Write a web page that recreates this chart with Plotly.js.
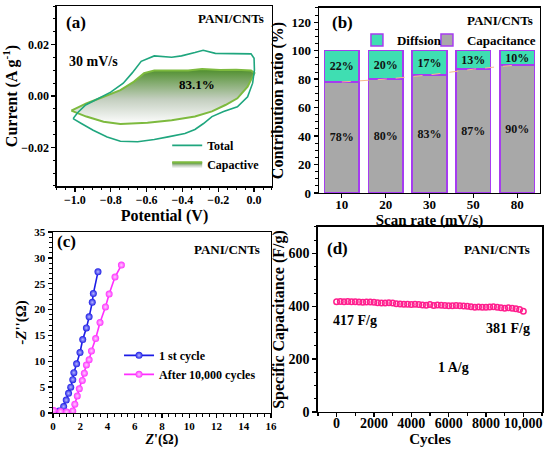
<!DOCTYPE html>
<html>
<head>
<meta charset="utf-8">
<script src="https://cdn.plot.ly/plotly-3.0.1.min.js"></script>
<style>html,body{margin:0;padding:0;background:#fff;}#chart{width:550px;height:456px;}</style>
</head>
<body>
<div id="chart"></div>
<script>
// ---- Panel (a): CV curves at 30 mV/s ----
const totalPotential = [-1.01,-0.985,-0.94,-0.87,-0.80,-0.73,-0.68,-0.63,-0.557,-0.46,-0.405,-0.33,-0.284,-0.216,-0.10,-0.017,0.0,0.002,-0.008,-0.036,-0.093,-0.17,-0.235,-0.282,-0.33,-0.386,-0.48,-0.557,-0.65,-0.746,-0.82,-0.898,-0.964,-1.0,-1.01];
const totalCurrent   = [-0.0088,-0.0065,-0.0035,-0.0010,0.0015,0.0050,0.0090,0.0135,0.0156,0.0151,0.0156,0.0169,0.0178,0.0166,0.0164,0.0164,0.0147,0.0101,0.0050,-0.0003,-0.0042,-0.0060,-0.0080,-0.0107,-0.0130,-0.0146,-0.0159,-0.0169,-0.0178,-0.0176,-0.0159,-0.0133,-0.0107,-0.0094,-0.0088];
const capPotential = [-1.02,-0.936,-0.84,-0.746,-0.67,-0.614,-0.557,-0.46,-0.368,-0.29,-0.19,-0.10,-0.017,0.002,-0.036,-0.093,-0.16,-0.235,-0.33,-0.46,-0.595,-0.746,-0.84,-0.936,-1.02];
const capCurrent   = [-0.0057,-0.0029,-0.0003,0.0023,0.0056,0.0089,0.0099,0.0100,0.0099,0.0105,0.0101,0.0102,0.0099,0.0089,0.0036,-0.0009,-0.0035,-0.0060,-0.0080,-0.0094,-0.0104,-0.0109,-0.0100,-0.0080,-0.0057];

// ---- Panel (b): contribution ratio ----
const scanRates   = ['10','20','30','50','80'];
const capacitance = [78,80,83,87,90];
const diffusion   = [22,20,17,13,10];

// ---- Panel (c): Nyquist plots ----
const zReFirst = [0.1,0.45,0.78,0.97,1.14,1.30,1.45,1.53,1.73,1.98,2.18,2.45,2.65,2.88,2.96,3.30];
const zImFirst = [0.2,0.4,1.25,2.5,3.8,5.0,6.45,7.8,9.5,11.7,14.2,16.45,18.6,21.4,23.1,27.3];
const zReAfter = [0.05,0.55,1.0,1.45,1.60,1.78,1.93,2.15,2.30,2.45,2.65,2.82,3.13,3.45,3.85,4.12,4.55,5.02];
const zImAfter = [0.5,0.3,0.2,0.4,1.7,3.3,4.7,6.3,7.7,9.3,10.3,12.0,14.4,17.5,20.5,23.0,26.3,28.6];

// ---- Panel (d): cycling stability ----
const cycles = [0,200,400,600,800,1000,1200,1400,1600,1800,2000,2200,2400,2600,2800,3000,3200,3400,3600,3800,4000,4200,4400,4600,4800,5000,5200,5400,5600,5800,6000,6200,6400,6600,6800,7000,7200,7400,7600,7800,8000,8200,8400,8600,8800,9000,9200,9400,9600,9800,10000];
const specCap = [417,418,417,418,417,417,416,415,416,416,415,413,412,412,413,412,410,409,408,408,407,408,407,405,404,407,403,405,404,403,402,402,403,402,401,400,398,396,397,396,396,397,398,396,394,393,394,393,391,388,381];
const cycleTickVals = [0,2000,4000,6000,8000,10000];
const cycleTickText = ['0','2000','4000','6000','8000','10,000'];

const FONT = 'Liberation Serif, Times New Roman, serif';

const traces = [
  {x: capPotential, y: capCurrent, xaxis:'x', yaxis:'y', type:'scatter', mode:'lines', name:'Capactive',
   fill:'toself', line:{color:'#7dba3e', width:2},
   fillgradient:{type:'vertical', start:-0.011, stop:0.0105,
     colorscale:[[0,'#ffffff'],[0.45,'#c4cfc0'],[1,'#4e8e2c']]},
   legend:'legend'},
  {x: totalPotential, y: totalCurrent, xaxis:'x', yaxis:'y', type:'scatter', mode:'lines', name:'Total',
   line:{color:'#1fa67e', width:1.6}, legend:'legend'},

  {x: scanRates, y: capacitance, xaxis:'x2', yaxis:'y2', type:'bar', name:'Capacitance',
   marker:{color:'#a8a8a8', line:{color:'#a63cf0', width:1.5}},
   text: capacitance.map(v => v + '%'), textposition:'inside', insidetextanchor:'middle', textangle:0, constraintext:'none',
   textfont:{size:12, color:'#111'}, legend:'legend4'},
  {x: scanRates, y: diffusion, xaxis:'x2', yaxis:'y2', type:'bar', name:'Diffsion',
   marker:{color:'#3fdeb2', line:{color:'#a63cf0', width:1.5}},
   text: diffusion.map(v => v + '%'), textposition:'inside', insidetextanchor:'middle', textangle:0, constraintext:'none',
   textfont:{size:12, color:'#111'}, legend:'legend2'},
  {x: scanRates, y: capacitance, xaxis:'x2', yaxis:'y2', type:'scatter', mode:'lines',
   line:{color:'#f7b98a', width:1, dash:'dash'}, showlegend:false, hoverinfo:'skip'},

  {x: zReFirst, y: zImFirst, xaxis:'x3', yaxis:'y3', type:'scatter', mode:'lines+markers', name:'1 st cycle',
   line:{color:'#1c1ce6', width:1.6},
   marker:{color:'#1c1ce6', size:7, gradient:{type:'radial', color:'#b8b8ff'}}, legend:'legend3'},
  {x: zReAfter, y: zImAfter, xaxis:'x3', yaxis:'y3', type:'scatter', mode:'lines+markers', name:'After 10,000 cycles',
   line:{color:'#ff2eff', width:1.6},
   marker:{color:'#ff2eff', size:7, gradient:{type:'radial', color:'#ffd0ff'}}, legend:'legend3'},

  {x: cycles, y: specCap, xaxis:'x4', yaxis:'y4', type:'scatter', mode:'markers', name:'Capacitance',
   marker:{symbol:'circle-open', size:5.5, color:'#ff1f8e', line:{width:1.5}}, showlegend:false}
];

const baseAxis = {showline:true, linecolor:'#000', linewidth:1.5, mirror:true, ticks:'outside',
  ticklen:4, tickwidth:1.3, tickcolor:'#000', showgrid:false, zeroline:false, tickangle:0, automargin:false,
  minor:{ticks:'outside', ticklen:2.5, tickwidth:1, tickcolor:'#000'}};
function ax(o){ return Object.assign({}, JSON.parse(JSON.stringify(baseAxis)), o); }

const layout = {
  width:550, height:456, margin:{l:0,r:0,t:0,b:0, autoexpand:false}, paper_bgcolor:'#fff', plot_bgcolor:'#fff',
  font:{family:FONT, weight:'bold', color:'#000', size:12},
  barmode:'stack', bargap:0.21,
  xaxis: ax({domain:[0.1036,0.4945], anchor:'y', range:[-1.1,0.1], dtick:0.2, tickformat:'.1f', ticklabelstandoff:-2,
    tickfont:{size:12}, title:{text:'Potential (V)', font:{size:16}, standoff:0}}),
  yaxis: ax({domain:[0.5921,0.9868], anchor:'x', range:[-0.035,0.035], dtick:0.02, tickformat:'.2f',
    tickfont:{size:12}, title:{text:'Current (A g<sup>-1</sup>)', font:{size:16}, standoff:6}}),
  xaxis2: ax({domain:[0.58,0.9818], anchor:'y2', type:'category', range:[-0.52,4.52], ticklabelstandoff:-5,
    tickfont:{size:13}, minor:{ticks:''}, title:{text:'Scan rate (mV/s)', font:{size:15}, standoff:0}}),
  yaxis2: ax({domain:[0.5768,0.9825], anchor:'x2', range:[0,130], dtick:20,
    tickfont:{size:13}, title:{text:'Contribution ratio (%)', font:{size:16}, standoff:4}}),
  xaxis3: ax({domain:[0.0964,0.4927], anchor:'y3', range:[0,16], dtick:2, ticklabelstandoff:-2,
    tickfont:{size:11}, title:{text:'<i>Z</i>\'(Ω)', font:{size:14}, standoff:0}}),
  yaxis3: ax({domain:[0.0943,0.4912], anchor:'x3', range:[0,35], dtick:5,
    tickfont:{size:11}, title:{text:'-<i>Z</i>\'\'(Ω)', font:{size:15}, standoff:4}}),
  xaxis4: ax({domain:[0.578,0.9855], anchor:'y4', range:[-1000,11000], tickvals:cycleTickVals, ticktext:cycleTickText,
    ticklabelstandoff:-6,
    tickfont:{size:14}, minor:{ticks:'outside', ticklen:2.5, dtick:1000, tick0:0}, title:{text:'Cycles', font:{size:15}, standoff:0}}),
  yaxis4: ax({domain:[0.0965,0.5022], anchor:'x4', range:[0,700], dtick:200,
    tickfont:{size:14}, title:{text:'Specific Capacitance (F/g)', font:{size:16}, standoff:0}}),
  legend:{x:0.304, y:0.713, xanchor:'left', yanchor:'top', bgcolor:'rgba(0,0,0,0)', traceorder:'reversed',
    font:{size:12}, tracegroupgap:0},
  legend2:{x:0.649, y:0.912, xanchor:'left', yanchor:'middle', orientation:'h', bgcolor:'rgba(0,0,0,0)', font:{size:13}},
  legend4:{x:0.7763, y:0.912, xanchor:'left', yanchor:'middle', orientation:'h', bgcolor:'rgba(0,0,0,0)', font:{size:13}},
  legend3:{x:0.2164, y:0.2525, xanchor:'left', yanchor:'top', bgcolor:'rgba(0,0,0,0)', font:{size:12}},
  annotations:[
    {xref:'x domain', yref:'y domain', x:0.033, y:0.906, text:'(a)', showarrow:false, xanchor:'left', yanchor:'middle', font:{size:17}},
    {xref:'x domain', yref:'y domain', x:0.972, y:0.933, text:'PANI/CNTs', showarrow:false, xanchor:'right', yanchor:'middle', font:{size:13}},
    {xref:'x domain', yref:'y domain', x:0.047, y:0.689, text:'30 mV/s', showarrow:false, xanchor:'left', yanchor:'middle', font:{size:14}},
    {xref:'x', yref:'y', x:-0.318, y:0.0043, text:'83.1%', showarrow:false, font:{size:13}},
    {xref:'x2 domain', yref:'y2 domain', x:0.05, y:0.919, text:'(b)', showarrow:false, xanchor:'left', yanchor:'middle', font:{size:17}},
    {xref:'x2 domain', yref:'y2 domain', x:0.977, y:0.93, text:'PANI/CNTs', showarrow:false, xanchor:'right', yanchor:'middle', font:{size:13}},
    {xref:'x3 domain', yref:'y3 domain', x:0.01, y:0.945, text:'(c)', showarrow:false, xanchor:'left', yanchor:'middle', font:{size:17}},
    {xref:'x3 domain', yref:'y3 domain', x:0.959, y:0.906, text:'PANI/CNTs', showarrow:false, xanchor:'right', yanchor:'middle', font:{size:13}},
    {xref:'x4 domain', yref:'y4 domain', x:0.031, y:0.886, text:'(d)', showarrow:false, xanchor:'left', yanchor:'middle', font:{size:17}},
    {xref:'x4 domain', yref:'y4 domain', x:0.955, y:0.881, text:'PANI/CNTs', showarrow:false, xanchor:'right', yanchor:'middle', font:{size:13}},
    {xref:'x4 domain', yref:'y4 domain', x:0.058, y:0.497, text:'417 F/g', showarrow:false, xanchor:'left', yanchor:'middle', font:{size:14}},
    {xref:'x4 domain', yref:'y4 domain', x:0.955, y:0.454, text:'381 F/g', showarrow:false, xanchor:'right', yanchor:'middle', font:{size:14}},
    {xref:'x4 domain', yref:'y4 domain', x:0.603, y:0.243, text:'1 A/g', showarrow:false, xanchor:'center', yanchor:'middle', font:{size:14}}
  ]
};

Plotly.newPlot('chart', traces, layout, {displayModeBar:false, staticPlot:true});
</script>
</body>
</html>
